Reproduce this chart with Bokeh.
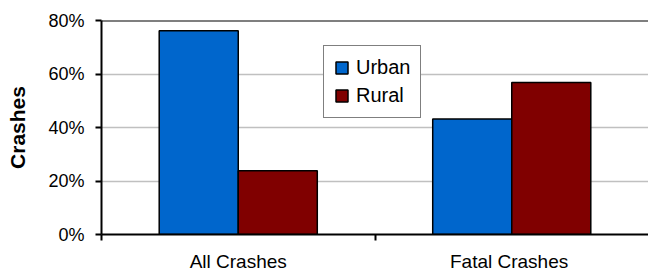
import numpy as np
from bokeh.plotting import figure
from bokeh.models import (ColumnDataSource, FixedTicker, PrintfTickFormatter,
                          Span, Range1d)
from bokeh.embed import file_html
from bokeh.resources import INLINE

categories = ["All Crashes", "Fatal  Crashes"]
series_names = ["Urban", "Rural"]
urban = [76.2, 43.2]
rural = [23.8, 56.8]
series_colors = ["#0066CC", "#800000"]
y_ticks = [0, 20, 40, 60, 80]
y_max = 80

FONT = "Liberation Sans"
n = len(categories)
centers = np.arange(n) + 0.5
bar_w = 0.289

p = figure(width=648, height=274, output_backend="svg", toolbar_location=None,
           x_range=Range1d(0, n), y_range=Range1d(0, y_max), min_border=0,
           min_border_left=101, min_border_right=0, min_border_top=20,
           min_border_bottom=40, title=None)
p.outline_line_color = None
p.background_fill_color = "white"
p.border_fill_color = "white"

for vals, name, color, off in zip([urban, rural], series_names, series_colors, [-0.5, 0.5]):
    src = ColumnDataSource(dict(x=centers + off * bar_w, top=vals))
    p.vbar(x="x", top="top", width=bar_w, source=src, fill_color=color,
           line_color="black", line_width=1.5, legend_label=name)

# x axis
xa = p.xaxis[0]
xa.ticker = FixedTicker(ticks=list(centers), minor_ticks=list(np.arange(n).astype(float)))
xa.major_label_overrides = {float(c): lab for c, lab in zip(centers, categories)}
xa.major_tick_out = 0
xa.major_tick_in = 0
xa.minor_tick_out = 6
xa.minor_tick_in = 0
xa.minor_tick_line_color = "black"
xa.minor_tick_line_width = 2
xa.axis_line_color = "black"
xa.axis_line_width = 2
xa.major_label_text_font = FONT
xa.major_label_text_font_size = "19px"
xa.major_label_text_color = "black"
xa.major_label_standoff = 10

# y axis
ya = p.yaxis[0]
ya.ticker = FixedTicker(ticks=y_ticks)
ya.formatter = PrintfTickFormatter(format="%d%%")
ya.major_tick_out = 6
ya.major_tick_in = 0
ya.minor_tick_line_color = None
ya.major_tick_line_width = 2
ya.major_tick_line_color = "black"
ya.axis_line_color = "black"
ya.axis_line_width = 2
ya.major_label_text_font = FONT
ya.major_label_text_font_size = "18px"
ya.major_label_text_color = "black"
ya.major_label_standoff = 11
ya.axis_label = "Crashes"
ya.axis_label_text_font = FONT
ya.axis_label_text_font_style = "bold"
ya.axis_label_text_font_size = "21px"
ya.axis_label_text_color = "black"
ya.axis_label_standoff = 16

# top border line at the top of the value axis
p.add_layout(Span(location=y_max, dimension="width", line_color="black", line_width=2))

p.xgrid.visible = False
p.ygrid.ticker = FixedTicker(ticks=y_ticks)
p.ygrid.grid_line_color = "#c0c0c0"
p.ygrid.grid_line_width = 1.5

lg = p.legend[0]
lg.location = (222, 116)
lg.border_line_color = "black"
lg.border_line_width = 1.5
lg.background_fill_color = "white"
lg.background_fill_alpha = 1
lg.label_text_font = FONT
lg.label_text_font_size = "20px"
lg.label_text_color = "black"
lg.glyph_width = 15
lg.glyph_height = 15
lg.label_standoff = 7
lg.label_height = 20
lg.spacing = 5
lg.padding = 10
lg.margin = 0

open("out.html", "w").write(file_html(p, INLINE))
